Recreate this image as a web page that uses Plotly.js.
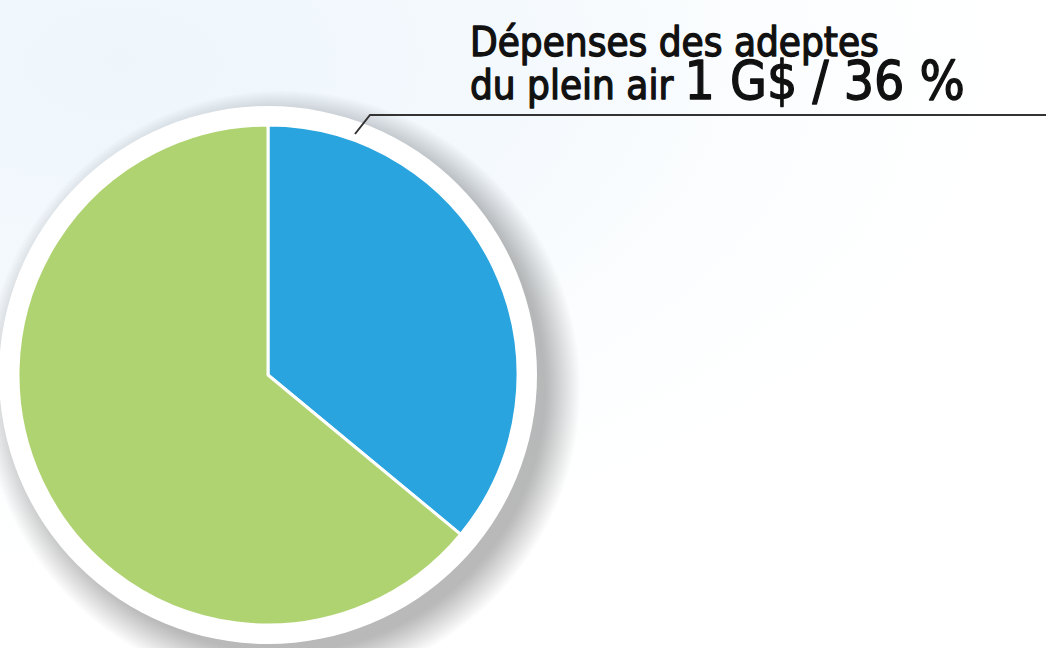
<!DOCTYPE html>
<html>
<head>
<meta charset="utf-8">
<script src="https://cdn.plot.ly/plotly-3.0.1.min.js"></script>
<style>
html,body{margin:0;padding:0;}
body{width:1046px;height:648px;overflow:hidden;
background: radial-gradient(ellipse 900px 520px at 120px 60px, #eef6fc 0%, #f4f9fd 45%, #fbfdfe 70%, #ffffff 100%);}
#chart{width:1046px;height:648px;}
#chart .annotation-text{stroke:#111111;stroke-width:1.3px;stroke-linejoin:round;}
</style>
</head>
<body>
<div id="chart"></div>
<script>
const categories = ["Dépenses des adeptes du plein air", "Autres dépenses"];
const shares = [36, 64];
const sliceColors = ["#29a4de", "#b0d372"];
const labelLine1 = "Dépenses des adeptes";
const labelLine2a = "du plein air ";
const labelLine2b = "1 G$ / 36 %";

const W = 1046, H = 648;
const cx = 268, cy = 375, R = 250;
const px = x => x / W;
const py = y => (H - y) / H;

const shapes = [];
// soft shadow
for (let i = 0; i < 18; i++) {
  const r = 264 + i * 2;
  shapes.push({type: "circle", xref: "paper", yref: "paper", layer: "below",
    x0: px(cx + 14 - r), x1: px(cx + 14 + r), y0: py(cy + 14 + r), y1: py(cy + 14 - r),
    fillcolor: "rgba(0,0,0,0.017)", line: {width: 0}});
}
// white ring
shapes.push({type: "circle", xref: "paper", yref: "paper", layer: "below",
  x0: px(cx - 269), x1: px(cx + 269), y0: py(cy + 269), y1: py(cy - 269),
  fillcolor: "#ffffff", line: {width: 0}});
// leader line
shapes.push({type: "path", xref: "paper", yref: "paper", layer: "above",
  path: `M ${px(355)} ${py(134)} L ${px(370)} ${py(115)} L ${px(1046)} ${py(115)}`,
  line: {color: "#333333", width: 2}});

const data = [{
  type: "pie",
  labels: categories,
  values: shares,
  sort: false,
  direction: "clockwise",
  rotation: 0,
  marker: {colors: sliceColors, line: {color: "#ffffff", width: 3}},
  textinfo: "none",
  hoverinfo: "none",
  showlegend: false,
  domain: {x: [px(cx - R), px(cx + R)], y: [py(cy + R), py(cy - R)]}
}];

const fontFam = "'DejaVu Sans Condensed', 'Liberation Sans Narrow', sans-serif";
const layout = {
  width: W, height: H,
  margin: {l: 0, r: 0, t: 0, b: 0},
  paper_bgcolor: "rgba(0,0,0,0)",
  plot_bgcolor: "rgba(0,0,0,0)",
  shapes: shapes,
  annotations: [
    {xref: "paper", yref: "paper", x: px(468), y: py(113), xanchor: "left", yanchor: "bottom",
     align: "left", showarrow: false,
     text: '<span style="font-size:40px">' + labelLine1 + '</span><br>' +
           '<span style="font-size:40px">' + labelLine2a + '</span>' +
           '<span style="font-size:53px">' + labelLine2b + '</span>',
     font: {family: fontFam, size: 33, color: "#111111"}}
  ]
};

Plotly.newPlot("chart", data, layout, {displayModeBar: false, staticPlot: true});
</script>
</body>
</html>
